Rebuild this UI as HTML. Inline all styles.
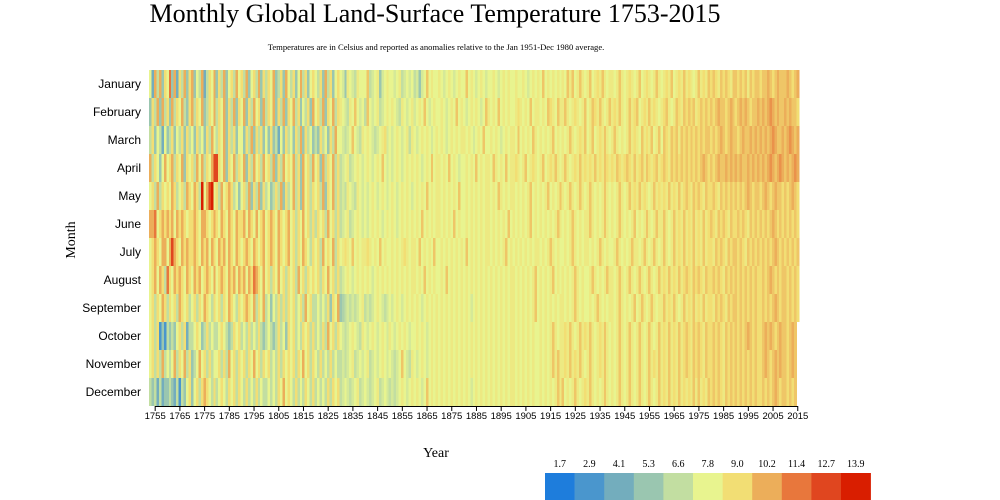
<!DOCTYPE html>
<html><head><meta charset="utf-8"><style>
html,body{margin:0;padding:0;background:#fff;width:1000px;height:500px;overflow:hidden}
svg{display:block}
</style></head><body>
<svg id="chart" width="1000" height="500" xmlns="http://www.w3.org/2000/svg">
<text x="435" y="22" text-anchor="middle" font-family="Liberation Serif, serif" font-size="26">Monthly Global Land-Surface Temperature 1753-2015</text>
<text x="436" y="50" text-anchor="middle" font-family="Liberation Serif, serif" font-size="8.6">Temperatures are in Celsius and reported as anomalies relative to the Jan 1951-Dec 1980 average.</text>
<text transform="translate(75,240) rotate(-90)" text-anchor="middle" font-family="Liberation Serif, serif" font-size="14">Month</text>
<text x="436" y="457" text-anchor="middle" font-family="Liberation Serif, serif" font-size="14">Year</text>
<g id="cells" shape-rendering="crispEdges"></g>
<g id="yaxis"></g>
<g id="xaxis"></g>
<g id="legend"></g>
</svg>
<script>
const monthNames = ["January","February","March","April","May","June","July","August","September","October","November","December"];
const legendValues = [1.7,2.9,4.1,5.3,6.6,7.8,9.0,10.2,11.4,12.7,13.9];
const legendColors = ["#1e7ddc","#4a96cd","#73adbd","#9ac6b0","#c2dea1","#e8f48f","#f2de74","#ecae5a","#e8773c","#e0461f","#d91e00"];
const startYear = 1753;
const codeAlphabet = "0A1B2C3D4E5F6G7H8I9Ja";
// each char = colour level in half steps (see codeAlphabet); one array per month, chunks 1753-59, then decades
const janCodes = ["5274736","5837264736","7354724657","3647356475","6473564736","4657346375","4635746356","5463746356",
"5E3F5E4F55","5G4E5F3E5F","55E5F4E5E5","4E3E5G5F55","F5E5F5E5F5","5G5F5E5F5E","55F5E5F5F5","5F55F5E5F5","F5G5F5F5F5",
"F5GFG5FGF5","FG5F6FGF5F","F5FGF5F6F5","FG5F6F5FGF","5F6FG5F6FG","F6F5FGF6FG",
"6G6FG6G6FG","G6G6GFG6GG","6GG7G6G7GG","G7G6G7"];
const febCodes = ["3647374","6374657436","7465734657","4657364736","5736475637","4657364736","5746354637","5647365746",
"F5E4F5G5E5","4G5E5F4E5F","5F5E4F5E5F","E5F5G5E5F5","5F5E5F5G5F","5E5F5F5E5G","F5F5G5F5F5","5F6F5F5G5F","F5F5G6F5GF",
"FGF5F6F5FG","5FG6FGF5FG","F6FGF5FGF6","G5F6FGF6F5","F6GF5FG6FG","6G6GF6G6G6",
"G6G7GG6G7G","6G7G7G6GG7","G7G7H7G7GG","7G7GG6"];
const marCodes = ["4635425","3463546364","5364536475","4657364635","5364736463","5363425364","5364736453","4364536475",
"5E4E5G5E4F","5F5E4E5F6E","5E5F5E5F4F","5E5F5F5E5F","5F5E5F5F5F","F5F5E5F5G5","5F5F5E5F5F","F5G5F5F5GF","5F5F5FG5F5",
"F5FGF5F6FG","5FG5F6FGF5","FGF5F5FGF6","F5GF6FG5FG","5G6FG6GFG6","G6G6G6G6GG",
"6G6G7G6G7G","G6G7GG7G7G","7G7G7H7GG7","G7H7G7"];
const aprCodes = ["7465357","5674657365","6475746579","9657365746","5736475647","5647364756","5746375647","5637465746",
"4E5F4E5F5E","5F5E5F5G5E","5E5F5E5F5F","5F5E5F5G5F","F5F5G5F5E5","5F5F5G5F5F","F5GF5F5G5F","F6F5FG5F6F","5FG5F6FGF5",
"FGF5F6FGF6","F6FGF6FG6F","6FG6F6G6FG","F6GFG6F6GF","6G6FG6G6G6","G6G6G6G7G6",
"G6G7GG7G7G","7G7GG7G7G7","G7G7H7G7H7","G7G7H7"];
const mayCodes = ["5647465","6576456476","5764a579a5","6475676453","5647364736","4534647364","5746375646","5647365746",
"4E4F5E4F5E","5E5F5E5F5E","5F5E5F5F5E","5F5F5G5F5F","F5F5F5F5G5","5F5F5F5F5F","F5F5GF5F5F","F5F5F5FG5F","5F5FG5F5FG",
"F5FGF5FGF5","FGF5F5FGF5","F5FGF5FGF6","FGF6F5FGF6","F6FGF6FGF6","G6FG6G6FG6",
"6G6FG6G6G6","G6G6G7G6GG","6G7G6G7GG6","G6G7G6"];
const junCodes = ["7785676","7675767656","6765776567","6576576576","6757657567","5676576567","5646575646","4656475646",
"4E5F4E5F5E","5E5F5F5E5F","5F5E5F5F5F","5F5G5F5F5F","F5F5F5G5F5","5F5F5F5F5F","F5F5F5F5G5","F5F5F5FG5F","5F5F5F5FGF",
"5F5FGF5F5F","FGF5F5FGF5","F5FGF5F5FG","5F5FGF5FGF","FGF5FGF6FG","F6FGF6FGF6",
"G6FG6G6FG6","6G6G6FG6G6","G6G6G7G6G6","G6G6G6"];
const julCodes = ["5676577","5797657676","6765767576","5767576576","5676576567","5676576567","5646576546","5647565746",
"5F6F5G5F5F","F6F5F5G5F5","5F5F5F6F5F","F5G5F5F5G5","5F5F5F5F5F","5G5F5F5F5F","F5F5F5FG5F","5F5F5F5F5F","F5F5FGF5F5",
"5F5FGF5F5F","F5F5FGF5F5","5FGF5F5FGF","F5FGF5FGF5","FGF5FGF6FG","F6FGF6FGF6",
"6FG6G6FG6G","G6G6FG6G6G","6G6G6G7G6G","6G6G6G"];
const augCodes = ["5675764","8657676576","5767567657","5676576757","6757687657","5646575646","5647564656","5646575646",
"4E5F5E5F5F","5F5E5F5F5F","5F5F5F5F5F","F5F5G5F5F5","5F5G5F5F5F","5F5F5F5F5F","5F5F5F5F5F","F5F5F5F5FG","5F5F5FG5F5",
"F5F5FGF5F5","5FGF5F5FGF","F5FGF5FGF5","FGF5FGF5FG","F6FGF6FGF6","G6FG6G6FG6",
"6G6G6FG6G6","G6G6G6G6G6","6G6G7G6G6G","G6G6G6"];
const sepCodes = ["5646576","4656476564","5646576546","5646576546","5676574657","4535464646","5645647564","4545463657",
"3D4E4E4E5F","4E4E5F5E4E","5E5F5E5F5F","5F5E5F5F5F","5F5F5F5F5F","5F5E5F5F5F","5F5F5F5F5F","F5F5F5F5FG","5F5F5F5F5F",
"F5F5FGF5F5","5F5FGF5F5F","F5FGF5F5FG","5FGF5FGF5F","FGF6FGF5FG","F6FGF6FGF6",
"6FG6G6FG6G","G6G6G6G6G6","6G6G6G7G6G","G6G6G6"];
const octCodes = ["5646131","4343564624","4565346454","4565434656","4546454643","4543464536","5645465646","4546475646",
"5E4E5F5E4F","5E5F5E5F5E","F5E5F5F5E5","5F5F5E5F5F","5F5F5F5F5F","5F5F5F5F5F","5F5F5F5F5F","F5F5F5F5F5","5F5F5FGF5F",
"F6FGF5FGF6","FGF5F6FGF5","F5FGF5FGF5","FGF5FGF5FG","F6FGF6FGF6","G6FG6G6FG6",
"6G6G6FG6G6","G6G6G7G6G6","6G7G7G6G7G","G6G7G"];
const novCodes = ["5646474","5457465746","3457564645","5646475646","5646575646","5645464656","5646575646","5464546454",
"4E4E5F4E5E","5F4E5E5F5E","5E4E5G5E4F","5E5F5E5F5F","5F5F5F5F5F","5F5F5F5F5F","5F5F5F5F5F","F5F5F5F5F5","5F5F5FGFGF",
"F6FGF6FGF5","FGF5F6FGF5","F5FGF5FGF5","FGF5FGF6FG","F6FGF6FGF6","G6FG6G6FG6",
"6G6G6FG6G6","G6G6G6G6G6","6G7G6G7G7G","G6G7G"];
const decCodes = ["4342423","3432414356","3564676546","4565465646","5464546454","4545465756","5464546546","4545464656",
"4E5E4E5F4E","5E4E5F4E5E","4E4E5F5E5F","5F5E5G5F5F","5F5F5F5F5F","5F5E5F5F5F","5F5F5F5F5F","F5F5F5F5F5","5F5F5F5FGF",
"G5F5FGF5F6","FGF5F5FGF5","F5FGF5FGF5","FGF5FGF5FG","F6FGF6FGF6","F6FGFGF6FG",
"6G6G6FG6G6","G6G6G6G6G6","6G6G6G7G6G","G6G6G"];
const monthCodes = [janCodes,febCodes,marCodes,aprCodes,mayCodes,junCodes,julCodes,augCodes,sepCodes,octCodes,novCodes,decCodes];
const yearTicks = [1755,1765,1775,1785,1795,1805,1815,1825,1835,1845,1855,1865,1875,1885,1895,1905,1915,1925,1935,1945,1955,1965,1975,1985,1995,2005,2015];

const NS = "http://www.w3.org/2000/svg";
const plot = {left:149, right:799, top:70, bottom:406};
const nYears = 263;
const cellW = (plot.right-plot.left)/nYears;
const cellH = (plot.bottom-plot.top)/12;
function xScale(year){ return plot.left + (year-startYear)*cellW; }
function yScale(m){ return plot.top + m*cellH; }
function levelToTemp(l){ return legendValues[0] + l*(legendValues[legendValues.length-1]-legendValues[0])/(legendValues.length-1); }
function hex(c){ return [parseInt(c.slice(1,3),16),parseInt(c.slice(3,5),16),parseInt(c.slice(5,7),16)]; }
function colorScale(t){
  const n = legendValues.length-1;
  let p = (t-legendValues[0])/(legendValues[n]-legendValues[0])*n;
  p = Math.max(0,Math.min(n,p));
  const i = Math.min(n-1,Math.floor(p)), f = p-i;
  const a = hex(legendColors[i]), b = hex(legendColors[i+1]);
  return "rgb("+a.map((v,k)=>Math.round(v+(b[k]-v)*f)).join(",")+")";
}
const temps = monthCodes.map(chunks => chunks.join("").split("").map(ch => levelToTemp(codeAlphabet.indexOf(ch)/2)));

const cells = document.getElementById("cells");
temps.forEach((row,m) => {
  row.forEach((t,i) => {
    const r = document.createElementNS(NS,"rect");
    
    
    r.setAttribute("x", xScale(startYear+i).toFixed(2));
    r.setAttribute("y", yScale(m).toFixed(2));
    r.setAttribute("width", (cellW+0.6).toFixed(2));
    r.setAttribute("height", cellH.toFixed(2));
    r.setAttribute("fill", colorScale(t));
    cells.appendChild(r);
  });
});

const yaxis = document.getElementById("yaxis");
monthNames.forEach((name,m) => {
  const t = document.createElementNS(NS,"text");
  
  
  t.setAttribute("x", 141);
  t.setAttribute("y", yScale(m)+cellH/2+4);
  t.setAttribute("text-anchor","end");
  t.setAttribute("font-family","Liberation Sans, sans-serif");
  t.setAttribute("font-size","12");
  t.textContent = name;
  yaxis.appendChild(t);
});

const xaxis = document.getElementById("xaxis");
const axisLine = document.createElementNS(NS,"line");


axisLine.setAttribute("x1", xScale(yearTicks[0])+cellW/2);
axisLine.setAttribute("x2", xScale(yearTicks[yearTicks.length-1])+cellW/2);
axisLine.setAttribute("y1", plot.bottom+0.5);
axisLine.setAttribute("y2", plot.bottom+0.5);
axisLine.setAttribute("stroke","#000");
xaxis.appendChild(axisLine);
yearTicks.forEach(y => {
  const x = xScale(y)+cellW/2;
  const tk = document.createElementNS(NS,"line");
  
  
  tk.setAttribute("x1",x); tk.setAttribute("x2",x);
  tk.setAttribute("y1",plot.bottom); tk.setAttribute("y2",plot.bottom+5);
  tk.setAttribute("stroke","#000");
  xaxis.appendChild(tk);
  const t = document.createElementNS(NS,"text");
  
  
  t.setAttribute("x", x);
  t.setAttribute("y", plot.bottom+13);
  t.setAttribute("text-anchor","middle");
  t.setAttribute("font-family","Liberation Sans, sans-serif");
  t.setAttribute("font-size","9.5");
  t.textContent = y;
  xaxis.appendChild(t);
});

const legend = document.getElementById("legend");
const lgX = 545, lgW = 29.6, lgY = 473, lgH = 27;
legendValues.forEach((v,i) => {
  const r = document.createElementNS(NS,"rect");
  
  
  r.setAttribute("x", lgX+i*lgW); r.setAttribute("y", lgY);
  r.setAttribute("width", lgW+0.3); r.setAttribute("height", lgH);
  r.setAttribute("fill", legendColors[i]);
  legend.appendChild(r);
  const t = document.createElementNS(NS,"text");
  
  
  t.setAttribute("x", lgX+i*lgW+lgW/2); t.setAttribute("y", 467);
  t.setAttribute("text-anchor","middle");
  t.setAttribute("font-family","Liberation Serif, serif");
  t.setAttribute("font-size","10");
  t.textContent = v.toFixed(1);
  legend.appendChild(t);
});
</script>
</body></html>
